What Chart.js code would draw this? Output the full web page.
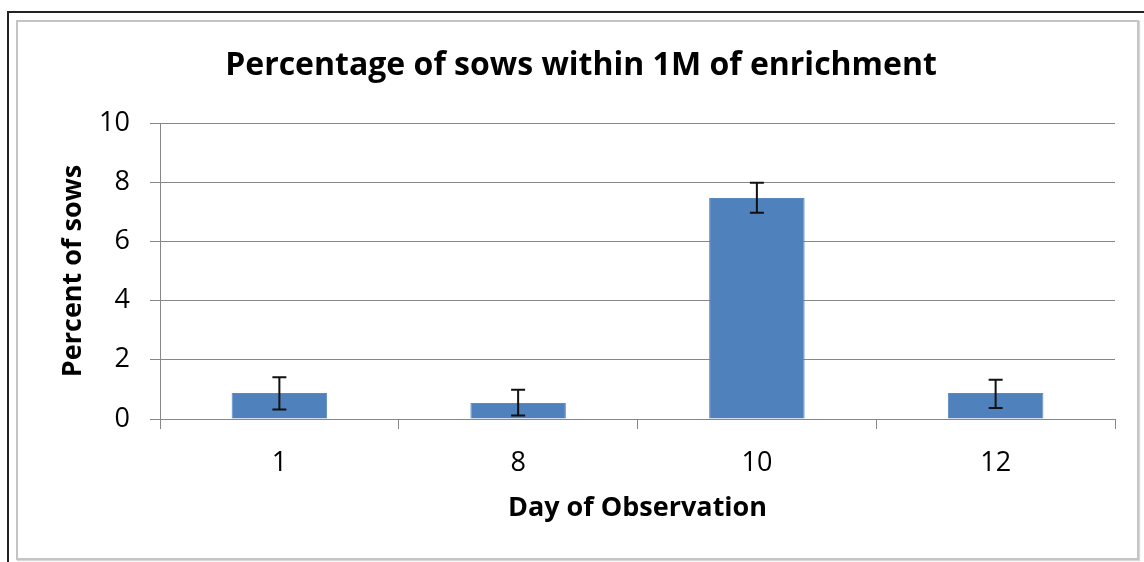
<!DOCTYPE html>
<html>
<head>
<meta charset="utf-8">
<script src="https://cdn.jsdelivr.net/npm/chart.js@4/dist/chart.umd.min.js"></script>
<style>
  html, body { margin: 0; padding: 0; background: #fff; }
  #wrap { position: relative; width: 1144px; height: 562px; overflow: hidden; }
  #outer { position: absolute; left: 7px; top: 11px; width: 1200px; height: 600px;
           border-top: 2px solid #222; border-left: 2px solid #222; }
  #inner { position: absolute; left: 16px; top: 20px; width: 1119px; height: 536px;
           border: 2px solid #c4c4c4; box-shadow: 1px 1px 1px #d8d8d8; }
  #chart { position: absolute; left: 0; top: 0; }
</style>
</head>
<body>
<div id="wrap">
  <div id="outer"></div>
  <div id="inner"></div>
  <canvas id="chart" width="1144" height="562"></canvas>
</div>
<script>
// days observed and the mean % of sows near the enrichment
const days = ["1", "8", "10", "12"];
const percentSows = [0.88, 0.54, 7.47, 0.88];
// ends of the error bars
const errLow = [0.32, 0.12, 6.97, 0.37];
const errHigh = [1.41, 0.99, 7.98, 1.33];
const yTicks = [0, 2, 4, 6, 8, 10];

const fontFam = "'Open Sans', sans-serif";
const gridGray = "#878787";

// draws the black error whiskers from the arrays above
const errorBars = {
    id: "errorBars",
    afterDatasetsDraw(chart) {
        const ctx = chart.ctx;
        const meta = chart.getDatasetMeta(0);
        const y = chart.scales.y;
        ctx.save();
        ctx.strokeStyle = "#111";
        ctx.lineWidth = 2;
        meta.data.forEach(function(bar, i) {
            const top = y.getPixelForValue(errHigh[i]);
            const bot = y.getPixelForValue(errLow[i]);
            ctx.beginPath();
            ctx.moveTo(bar.x, top);
            ctx.lineTo(bar.x, bot);
            ctx.moveTo(bar.x - 7, top);
            ctx.lineTo(bar.x + 7, top);
            ctx.moveTo(bar.x - 7, bot);
            ctx.lineTo(bar.x + 7, bot);
            ctx.stroke();
        });
        ctx.restore();
    }
};

new Chart("chart", {
    type: "bar",
    data: {
        labels: days,
        datasets: [{
            label: "Percent of sows",
            data: percentSows,
            backgroundColor: "#4F81BD",
            borderColor: "#5a8ac4",
            borderWidth: 1,
            barPercentage: 0.4,
            categoryPercentage: 1.0
        }]
    },
    options: {
        responsive: false,
        animation: false,
        layout: { padding: { left: 47, right: 29, top: 0, bottom: 0 } },
        plugins: {
            legend: { display: false },
            tooltip: { enabled: false },
            title: {
                display: true,
                text: "Percentage of sows within 1M of enrichment",
                color: "#000",
                font: { family: fontFam, size: 32, weight: "bold", lineHeight: 1.2 },
                padding: { top: 47, bottom: 37.6 }
            }
        },
        scales: {
            x: {
                grid: { display: true, drawOnChartArea: false, drawTicks: true, tickLength: 10, color: gridGray, offset: true },
                border: { display: true, color: gridGray },
                ticks: { color: "#000", padding: 18, font: { family: fontFam, size: 27 } },
                title: {
                    display: true,
                    text: "Day of Observation",
                    color: "#000",
                    font: { family: fontFam, size: 27, weight: "bold", lineHeight: 1.2 },
                    padding: { top: 0, bottom: 37.8 }
                },
                afterFit(scale) { scale.height = 143; }
            },
            y: {
                min: 0,
                max: 10,
                afterBuildTicks(scale) { scale.ticks = yTicks.map(v => ({ value: v })); },
                grid: { color: gridGray, tickLength: 10 },
                border: { display: true, color: gridGray },
                ticks: { color: "#000", padding: 20, font: { family: fontFam, size: 27 } },
                title: {
                    display: true,
                    text: "Percent of sows",
                    color: "#000",
                    font: { family: fontFam, size: 27, weight: "bold", lineHeight: 1.2 },
                    padding: { top: 9.8, bottom: 0 }
                },
                afterFit(scale) { scale.width = 113; }
            }
        }
    },
    plugins: [errorBars]
});
</script>
</body>
</html>
